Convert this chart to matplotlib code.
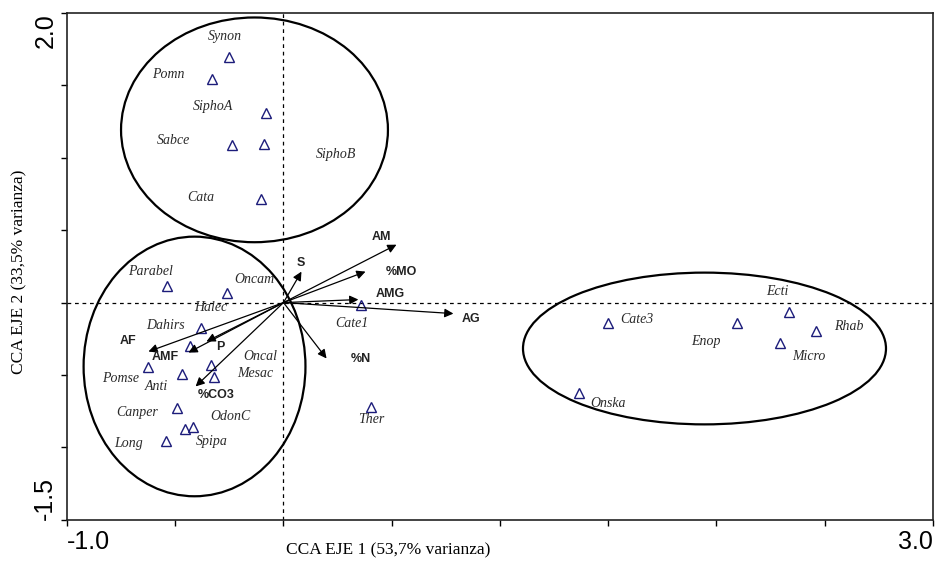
import numpy as np
import matplotlib.pyplot as plt
from matplotlib.patches import Ellipse

# especies (puntuaciones CCA)
species = ['Synon', 'Pomn', 'SiphoA', 'Sabce', 'SiphoB', 'Cata',
           'Parabel', 'Oncam', 'Dahirs', 'Halec', 'Oncal', 'Pomse', 'Anti', 'Mesac',
           'Canper', 'Spipa', 'OdonC', 'Long', 'Ther', 'Cate1',
           'Cate3', 'Enop', 'Ecti', 'Rhab', 'Micro', 'Onska']
sp_x = [-0.254, -0.328, -0.079, -0.240, -0.092, -0.102,
        -0.540, -0.263, -0.383, -0.430, -0.333, -0.624, -0.471, -0.319,
        -0.494, -0.453, -0.416, -0.545, 0.402, 0.356,
        1.501, 2.097, 2.337, 2.462, 2.296, 1.363]
sp_y = [1.697, 1.545, 1.310, 1.090, 1.097, 0.717,
        0.117, 0.069, -0.172, -0.303, -0.428, -0.448, -0.490, -0.517,
        -0.731, -0.876, -0.862, -0.959, -0.724, -0.014,
        -0.138, -0.138, -0.062, -0.193, -0.276, -0.621]

# variables ambientales (flechas)
env = ['S', 'AM', '%MO', 'AMG', 'AG', '%N', 'AF', 'AMF', 'P', '%CO3']
env_x = [0.083, 0.522, 0.379, 0.346, 0.785, 0.199, -0.624, -0.439, -0.356, -0.406]
env_y = [0.214, 0.400, 0.214, 0.021, -0.076, -0.386, -0.338, -0.345, -0.269, -0.579]

# grupos (centro x, centro y, ancho, alto)
grp_cx = [-0.134, -0.411, 1.945]
grp_cy = [1.193, -0.441, -0.317]
grp_w = [1.233, 1.025, 1.677]
grp_h = [1.552, 1.793, 1.048]

# desplazamiento de etiquetas en pixeles
sp_off = [(-4, 20), (-44, 4), (-53, 6), (-58, 4), (72, -11), (-61, 1),
          (-16, 14), (28, 13), (-35, 2), (20, 39), (49, 8), (-28, -11), (-25, -13), (41, 4),
          (-39, -4), (26, -12), (37, 11), (-37, -2), (1, -12), (-9, -19),
          (28, 3), (-31, -19), (-12, 20), (32, 4), (28, -14), (30, -11)]
env_off = [(-1, 9), (-15, 8), (36, 0), (32, 6), (18, -5), (34, -1),
           (-20, 11), (-23, -4), (14, -5), (21, -9)]

fig = plt.figure(figsize=(9.35, 5.65), dpi=100)
ax = fig.add_axes([0.0717, 0.080, 0.926, 0.897])

ax.set_xlim(-1.0, 3.0)
ax.set_ylim(-1.5, 2.0)

ax.axhline(0, color='black', lw=0.9, ls=(0, (3, 3)))
ax.axvline(0, color='black', lw=0.9, ls=(0, (3, 3)))

for cx, cy, w, h in zip(grp_cx, grp_cy, grp_w, grp_h):
    ax.add_patch(Ellipse((cx, cy), w, h, fill=False, ec='black', lw=1.6))

for name, x, y in zip(env, env_x, env_y):
    ax.annotate('', xy=(x, y), xytext=(0, 0),
                arrowprops=dict(arrowstyle='-|>', color='black', lw=0.9,
                                mutation_scale=13, shrinkA=0, shrinkB=0))
for name, x, y, off in zip(env, env_x, env_y, env_off):
    ax.annotate(name, (x, y), xytext=off, textcoords='offset pixels',
                ha='center', va='center', fontsize=9, fontweight='bold',
                family='Liberation Sans', color='#222222')

ax.plot(sp_x, sp_y, ls='none', marker='^', ms=7.5, mfc='none',
        mec='#1c1c7a', mew=1.0)
for name, x, y, off in zip(species, sp_x, sp_y, sp_off):
    ax.annotate(name, (x, y), xytext=off, textcoords='offset pixels',
                ha='center', va='center', fontsize=10, style='italic',
                family='Liberation Serif', color='#2a2a2a')

ax.set_xticks(np.arange(-1.0, 3.01, 0.5))
ax.set_yticks(np.arange(-1.5, 2.01, 0.5))
ax.set_xticklabels(['-1.0', '', '', '', '', '', '', '', '3.0'],
                   fontsize=18, family='Liberation Sans')
ax.set_yticklabels(['-1.5', '', '', '', '', '', '', '2.0'],
                   fontsize=18, family='Liberation Sans', rotation=90)
xl = ax.get_xticklabels()
xl[0].set_ha('left')
xl[-1].set_ha('right')
yl = ax.get_yticklabels()
yl[0].set_va('bottom')
yl[-1].set_va('top')
ax.tick_params(direction='out', length=4, width=1.0, pad=3)

for s in ax.spines.values():
    s.set_linewidth(1.2)
    s.set_color('#222222')

fig.text(0.415, 0.025, 'CCA EJE 1 (53,7% varianza)', family='Liberation Serif',
         fontsize=12.5, ha='center', va='center')
fig.text(0.021, 0.519, 'CCA EJE 2 (33,5% varianza)', family='Liberation Serif',
         fontsize=12.5, ha='center', va='center', rotation=90)

fig.savefig('out.png', dpi=100)
